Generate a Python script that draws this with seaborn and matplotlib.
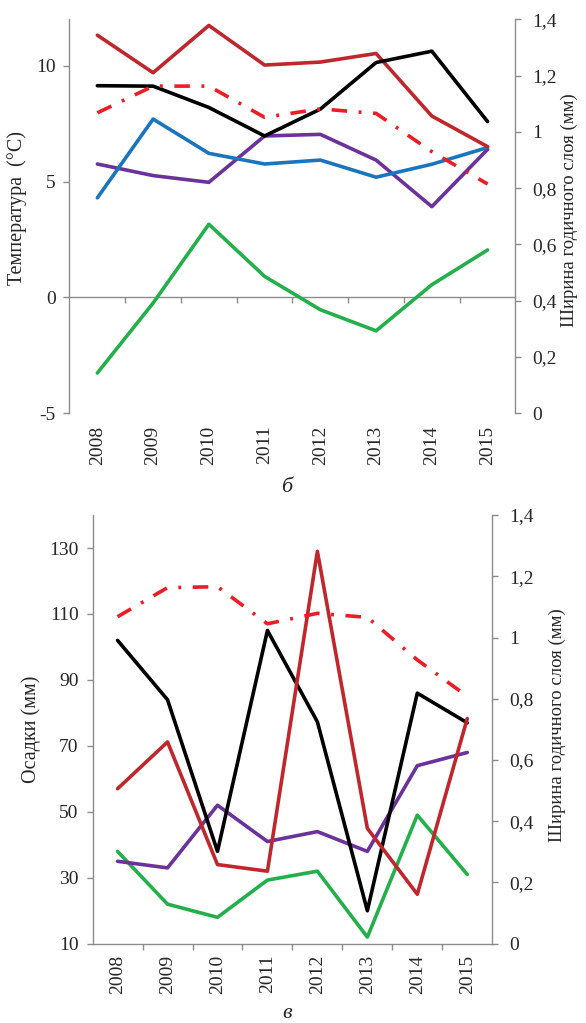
import matplotlib
matplotlib.use("Agg")
import matplotlib.pyplot as plt
import seaborn as sns
from matplotlib.ticker import FixedLocator

# ---------------- data ----------------
years = ["2008", "2009", "2010", "2011", "2012", "2013", "2014", "2015"]

# ring width (mm), right axis in both panels
ring_width_top = [1.068, 1.163, 1.163, 1.052, 1.082, 1.066, 0.930, 0.815]
ring_width_bot = [1.068, 1.163, 1.166, 1.045, 1.079, 1.066, 0.927, 0.808]

# panel б: temperature (°C)
temp_darkred = [11.32, 9.70, 11.74, 10.03, 10.16, 10.53, 7.83, 6.51]
temp_black = [9.14, 9.12, 8.20, 6.97, 8.13, 10.14, 10.63, 7.59]
temp_blue = [4.30, 7.70, 6.22, 5.76, 5.93, 5.19, 5.75, 6.47]
temp_purple = [5.76, 5.26, 4.97, 6.97, 7.04, 5.93, 3.92, 6.39]
temp_green = [-3.26, -0.24, 3.16, 0.91, -0.53, -1.44, 0.55, 2.05]

# panel в: precipitation (mm)
prec_black = [102, 84, 38, 105, 77.3, 20, 86, 77]
prec_darkred = [57, 71.2, 34, 32, 129, 45, 25, 78.3]
prec_purple = [35, 33, 52, 41, 44, 38, 64, 68]
prec_green = [38, 22, 18, 29.3, 32, 12, 49, 31]

temp_ticks = [-5, 0, 5, 10]
prec_ticks = [10, 30, 50, 70, 90, 110, 130]
rw_ticks = [0, 0.2, 0.4, 0.6, 0.8, 1.0, 1.2, 1.4]
rw_ticklabels = ["0", "0,2", "0,4", "0,6", "0,8", "1", "1,2", "1,4"]

# ---------------- style ----------------
sns.set_style("ticks")
plt.rcParams["font.family"] = ["Liberation Serif", "DejaVu Serif"]

GRAY = "#8c8c8c"
C_DARKRED = "#c0272d"
C_BLACK = "#000000"
C_BLUE = "#1b75bc"
C_PURPLE = "#6a329a"
C_GREEN = "#23b04b"
C_RED = "#ee1c24"
LW = 2.6
DASHDOT = (0, (4.3, 3.2, 0.8, 3.2))
TICKFS = 14
LEFTFS = 14.5
RIGHTFS = 13.5

fig = plt.figure(figsize=(5.86, 10.23), dpi=100)
bounds = [i + 0.5 for i in range(len(years) - 1)]


def draw(ax, y, color, **kw):
    sns.lineplot(x=years, y=y, ax=ax, color=color, lw=LW, sort=False,
                 legend=False, **kw)


def style_axes(ax, ax2):
    for s in ["top", "right"]:
        ax.spines[s].set_visible(False)
    for s in ["top", "left", "bottom"]:
        ax2.spines[s].set_visible(False)
    ax.spines["left"].set_color(GRAY)
    ax2.spines["right"].set_color(GRAY)
    ax.spines["left"].set_linewidth(1.0)
    ax2.spines["right"].set_linewidth(1.0)
    ax.tick_params(axis="y", direction="out", length=4, width=1.0,
                   color=GRAY, labelsize=TICKFS, pad=6)
    ax2.tick_params(axis="y", direction="out", length=4, width=1.0,
                    color=GRAY, labelsize=TICKFS, pad=8)
    ax2.set_yticks(rw_ticks, rw_ticklabels)
    ax2.set_ylim(0, 1.4)
    ax.set_xlim(-0.5, len(years) - 0.5)
    ax.set_xlabel("")
    ax.set_facecolor("none")


# ---------------- panel б ----------------
ax = fig.add_axes([0.1186, 0.596, 0.761, 0.385])
ax2 = ax.twinx()
draw(ax, temp_green, C_GREEN)
draw(ax, temp_purple, C_PURPLE)
draw(ax, temp_blue, C_BLUE)
draw(ax, temp_darkred, C_DARKRED)
draw(ax, temp_black, C_BLACK)
draw(ax2, ring_width_top, C_RED, linestyle=DASHDOT)
style_axes(ax, ax2)
ax.set_ylim(-5, 12)
ax.set_yticks(temp_ticks, [str(t) for t in temp_ticks])
ax.spines["bottom"].set_visible(False)
ax.tick_params(axis="x", length=0, labelsize=TICKFS, labelrotation=90, pad=9)
sec = ax.secondary_xaxis(0, transform=ax.transData)
sec.set_xticks(bounds)
sec.tick_params(axis="x", direction="out", length=4, width=1.0, color=GRAY,
                labelbottom=False)
sec.spines["bottom"].set_color(GRAY)
sec.spines["bottom"].set_linewidth(1.0)
ax.set_ylabel("Температура  (°C)", fontsize=LEFTFS)
ax2.set_ylabel("Ширина годичного слоя (мм)", fontsize=RIGHTFS)
ax.yaxis.set_label_coords(-0.095, 0.52)
ax2.yaxis.set_label_coords(1.102, 0.516)
fig.text(0.49, 1 - 488 / 1023, "б", fontsize=16, style="italic",
         ha="center", va="center")

# ---------------- panel в ----------------
bx = fig.add_axes([0.158, 0.0775, 0.682, 0.419])
bx2 = bx.twinx()
draw(bx, prec_green, C_GREEN)
draw(bx, prec_purple, C_PURPLE)
draw(bx, prec_black, C_BLACK)
draw(bx, prec_darkred, C_DARKRED)
draw(bx2, ring_width_bot, C_RED, linestyle=DASHDOT)
style_axes(bx, bx2)
bx.set_ylim(10, 140)
bx.set_yticks(prec_ticks, [str(t) for t in prec_ticks])
bx.spines["bottom"].set_color(GRAY)
bx.spines["bottom"].set_linewidth(1.0)
bx.tick_params(axis="x", which="major", length=0, labelsize=TICKFS,
               labelrotation=90, pad=8)
bx.xaxis.set_minor_locator(FixedLocator(bounds))
bx.tick_params(axis="x", which="minor", direction="out", length=4, width=1.0,
               color=GRAY)
bx.set_ylabel("Осадки (мм)", fontsize=LEFTFS)
bx2.set_ylabel("Ширина годичного слоя (мм)", fontsize=RIGHTFS)
bx.yaxis.set_label_coords(-0.129, 0.50)
bx2.yaxis.set_label_coords(1.141, 0.51)
fig.text(0.49, 1 - 1013 / 1023, "в", fontsize=16, style="italic",
         ha="center", va="center")

fig.savefig("out.png", dpi=100, facecolor="white")
